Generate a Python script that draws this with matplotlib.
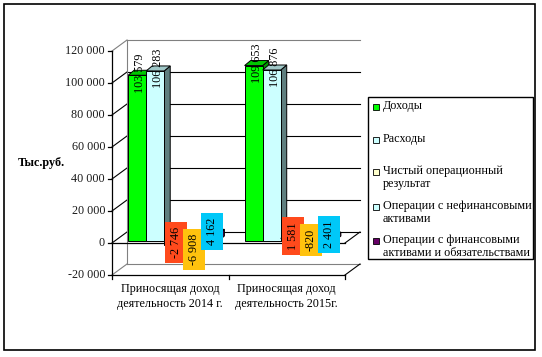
import numpy as np
import matplotlib
matplotlib.use('Agg')
import matplotlib.pyplot as plt
from matplotlib.patches import Polygon, Rectangle
from matplotlib.lines import Line2D
from matplotlib.transforms import ScaledTranslation, IdentityTransform

plt.rcParams['font.family'] = ['Liberation Serif', 'DejaVu Serif']

categories = ['Приносящая доход\nдеятельность 2014 г.', 'Приносящая доход\nдеятельность 2015г.']
series_names = ['Доходы', 'Расходы', 'Чистый операционный\nрезультат',
                'Операции с нефинансовыми\nактивами',
                'Операции с финансовыми\nактивами и обязательствами']
dohody = [103579, 109653]
rashody = [106283, 106876]
chistyi = [-2746, 1581]
nefin = [-6908, -820]
fin = [4162, 2401]
series = [dohody, rashody, chistyi, nefin, fin]
y_ticks = np.arange(-20000, 120001, 20000)

bar_colors = ['#00ff00', '#ccffff', '#ffffcc', '#ccffff', '#660066']
label_bg = [None, None, '#ff4a1c', '#ffc20e', '#00c8f8']

DPI = 100
FS = 8.7
fig = plt.figure(figsize=(5.42, 3.57), dpi=DPI)
W, H = 542, 357

# front plane of the 3d box
ax = fig.add_axes([112 / W, (H - 275) / H, 233 / W, 224 / H])
ax.set_xlim(-0.5, 1.5)
ax.set_ylim(-20000, 120000)
ax.axis('off')

# overlay in pixel coords for frame, legend, titles
ov = fig.add_axes([0, 0, 1, 1], zorder=-1)
ov.set_xlim(0, W)
ov.set_ylim(H, 0)
ov.axis('off')

back_off = (15, 11)
bar_base = (3, 2)
bar_depth = (6, 5)


def shift(dx, dy):
    return ax.transData + ScaledTranslation(dx / DPI, dy / DPI, fig.dpi_scale_trans)


def disp(x, y, off=(0, 0)):
    p = ax.transData.transform((x, y))
    return (p[0] + off[0], p[1] + off[1])


def add_line(p0, p1, color='black', lw=0.8, z=1):
    ax.add_line(Line2D([p0[0], p1[0]], [p0[1], p1[1]], color=color, lw=lw,
                       transform=IdentityTransform(), clip_on=False, zorder=z))


# back wall gridlines and side wall
back = shift(*back_off)
for t in y_ticks:
    edge = t in (y_ticks[0], y_ticks[-1])
    col = '#808080' if edge else 'black'
    ax.plot([-0.5, 1.5], [t, t], color=col, lw=0.8, transform=back, clip_on=False, zorder=1)
    add_line(disp(-0.5, t), disp(-0.5, t, back_off), color=col)
ax.plot([-0.5, -0.5], [-20000, 120000], color='#808080', lw=0.8, transform=back, clip_on=False, zorder=1)
add_line(disp(1.5, -20000), disp(1.5, -20000, back_off))
add_line(disp(1.5, 0), disp(1.5, 0, back_off))

# front axes lines
ax.plot([-0.5, -0.5], [-20000, 120000], color='black', lw=0.9, clip_on=False, zorder=2)
ax.plot([-0.5, 1.5], [-20000, -20000], color='black', lw=0.9, clip_on=False, zorder=2)
ax.plot([-0.5, 1.5], [0, 0], color='black', lw=0.9, clip_on=False, zorder=2)
for t in y_ticks:
    p = disp(-0.5, t)
    add_line(p, (p[0] - 4, p[1]), lw=0.9)
    ax.text(-0.5, t, f'{t:,}'.replace(',', ' '), transform=shift(-7, 0),
            ha='right', va='center', fontsize=FS, color='#1a1a1a')
for x in (-0.5, 0.5, 1.5):
    p = disp(x, -20000)
    add_line(p, (p[0], p[1] - 4), lw=0.9)
for j, cat in enumerate(categories):
    ax.text(j, -20000, cat, transform=shift(0, -8), ha='center', va='top',
            fontsize=FS, linespacing=1.35)


def darker(c, f):
    r, g, b = matplotlib.colors.to_rgb(c)
    return (r * f, g * f, b * f)


w = 0.155
z = 5
for j in range(len(categories)):
    for i, vals in enumerate(series):
        v = vals[j]
        xl = j - 2.5 * w + i * w
        xr = xl + w
        lo, hi = min(0, v), max(0, v)
        dx, dy = bar_depth

        def p(x, y, extra=(0, 0)):
            return disp(x, y, (bar_base[0] + extra[0], bar_base[1] + extra[1]))

        fc = bar_colors[i]
        side_c = '#5f7f7f' if i == 1 else darker(fc, 0.6)
        side = [p(xr, lo), p(xr, lo, (dx, dy)), p(xr, hi, (dx, dy)), p(xr, hi)]
        top = [p(xl, hi), p(xr, hi), p(xr, hi, (dx, dy)), p(xl, hi, (dx, dy))]
        front = [p(xl, lo), p(xr, lo), p(xr, hi), p(xl, hi)]
        for poly, col in ((side, side_c), (top, darker(fc, 0.78)), (front, fc)):
            ax.add_patch(Polygon(poly, closed=True, facecolor=col, edgecolor='black',
                                 lw=0.7, transform=IdentityTransform(), clip_on=False, zorder=z))
        z += 1

for j in range(len(categories)):
    for i, vals in enumerate(series):
        v = vals[j]
        xc = j - 2.5 * w + i * w + w / 2
        lab = f'{v:,}'.replace(',', ' ')
        tr = shift(bar_base[0] + bar_depth[0] / 2, bar_base[1] + bar_depth[1] / 2)
        kw = {}
        if label_bg[i]:
            kw['bbox'] = dict(facecolor=label_bg[i], edgecolor='none', pad=3.6)
        ax.text(xc, v, lab, transform=tr, rotation=90, ha='center', va='center',
                fontsize=FS, zorder=50, **kw)

# y axis title
ov.text(18, 163, 'Тыс.руб.', fontsize=FS, fontweight='bold', ha='left', va='center')

# legend drawn by hand
ov.add_patch(Rectangle((368, 97), 165, 162, facecolor='white', edgecolor='black', lw=1.0))
leg_y = [107, 140, 172, 207, 241]
for name, col, ly in zip(series_names, bar_colors, leg_y):
    ov.add_patch(Rectangle((373, ly - 3), 6, 6, facecolor=col, edgecolor='black', lw=0.6))
    ov.text(383, ly - 7, name, fontsize=FS, ha='left', va='top', linespacing=1.15)

# outer frame
ov.add_patch(Rectangle((4, 4), 531, 346, facecolor='none', edgecolor='black', lw=1.2))

fig.savefig('out.png', dpi=DPI)
